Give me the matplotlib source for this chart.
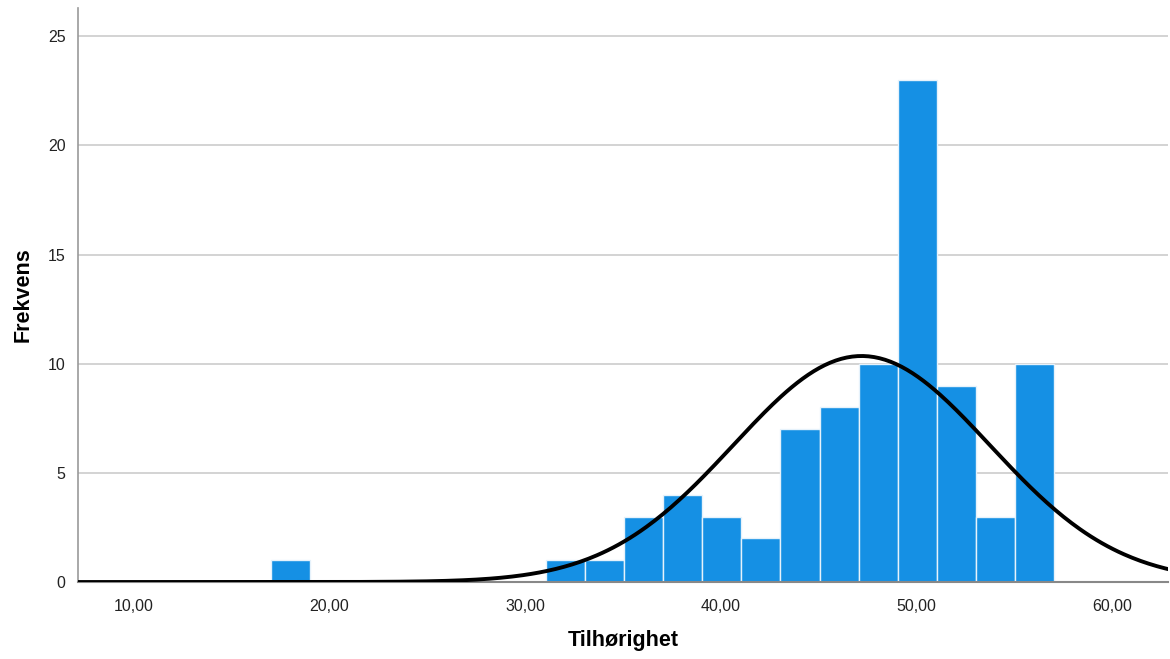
import numpy as np
import matplotlib
matplotlib.use("Agg")
import matplotlib.pyplot as plt

plt.rcParams["font.family"] = ["Liberation Sans", "DejaVu Sans"]

# histogram bins (SPSS-style, width 2) and counts
bin_left = [17.0, 31.05, 33.05, 35.05, 37.05, 39.05, 41.05, 43.05, 45.05, 47.05, 49.05, 51.05, 53.05, 55.05]
counts   = [1, 1, 1, 3, 4, 3, 2, 7, 8, 10, 23, 9, 3, 10]
bin_width = 2.0

# normal curve parameters
curve_mean = 47.2
curve_sd   = 6.55

x_ticks  = [10, 20, 30, 40, 50, 60]
x_labels = ["10,00", "20,00", "30,00", "40,00", "50,00", "60,00"]
y_ticks  = [0, 5, 10, 15, 20, 25]

n_total = sum(counts)

fig = plt.figure(figsize=(11.7, 6.59), dpi=100)
ax = fig.add_axes([0.0667, 0.1168, 0.9313, 0.8712])

ax.bar(bin_left, counts, width=bin_width, align="edge", color="#1590e4",
       edgecolor="#e6f2fb", linewidth=1.0, zorder=2)

xs = np.linspace(7.0, 63.0, 400)
ys = n_total * bin_width / (curve_sd * np.sqrt(2 * np.pi)) * \
     np.exp(-0.5 * ((xs - curve_mean) / curve_sd) ** 2)
ax.plot(xs, ys, color="black", linewidth=2.8, zorder=3, solid_capstyle="butt")

ax.set_xlim(7.14, 62.85)
ax.set_ylim(0, 26.3)
ax.set_xticks(x_ticks)
ax.set_xticklabels(x_labels)
ax.set_yticks(y_ticks)
ax.tick_params(axis="both", length=0, labelsize=11.5, colors="#222222")
ax.tick_params(axis="x", pad=12)
ax.tick_params(axis="y", pad=9)

ax.yaxis.grid(True, color="#cccccc", linewidth=1.2, zorder=0)
ax.set_axisbelow(True)

for s in ["top", "right"]:
    ax.spines[s].set_visible(False)
ax.spines["left"].set_color("#999999")
ax.spines["left"].set_linewidth(1.2)
ax.spines["bottom"].set_color("#888888")
ax.spines["bottom"].set_linewidth(1.5)

ax.set_xlabel("Tilhørighet", fontsize=15.5, fontweight="bold", labelpad=12)
ax.set_ylabel("Frekvens", fontsize=15.5, fontweight="bold", labelpad=10)

fig.savefig("out.png", dpi=100)
